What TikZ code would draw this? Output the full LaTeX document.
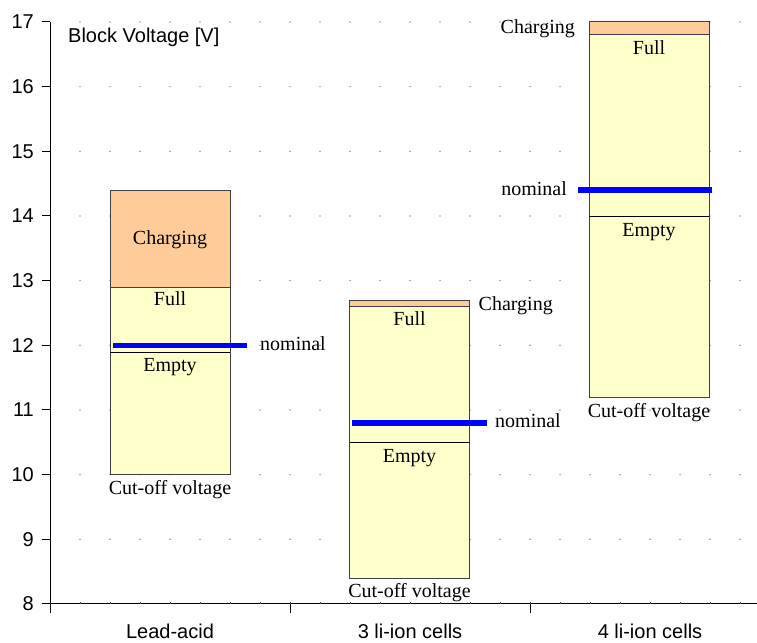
\documentclass[tikz,border=0pt]{standalone}
\usepackage{fontspec}
\setmainfont{Liberation Serif}
\setsansfont{Liberation Sans}
\usepackage{xcolor}
\usetikzlibrary{positioning}
\definecolor{cellfill}{HTML}{FFFFCC}
\definecolor{chargefill}{HTML}{FFCC99}
\tikzset{
  axisfont/.style={font=\sffamily\fontsize{20}{24}\selectfont},
  lbl/.style={font=\fontsize{20}{24}\selectfont, inner sep=3pt,
              text height=14pt, text depth=4pt},
  cellbar/.style={draw=black!75, fill=cellfill, line width=1pt},
  chargebar/.style={draw=black!75, fill=chargefill, line width=1pt},
  nominalline/.style={blue, line width=5.5pt},
  griddot/.style={fill=black!80},
  axisline/.style={black, line width=1pt},
}

\begin{document}
\begin{tikzpicture}[x=1pt, y=64.667pt]
  \useasboundingbox (0,7.412) rectangle (757,17.34);

  % dotted grid
  \foreach \v in {9,...,17}
    \foreach \x in {80,110,...,740}
      \fill[griddot] (\x,\v) circle[radius=0.6pt];

  % axes and ticks
  \draw[axisline] (50,7.86) -- (50,17);
  \draw[axisline] (50,8) -- (757,8);
  \foreach \v in {8,...,17} {
    \draw[axisline] (42,\v) -- (50,\v);
    \node[axisfont, anchor=east, inner sep=0pt] (ytick\v) at (34,\v) {\v};
  }
  \foreach \x in {80,110,...,740}
    \draw[black!70] (\x,8) -- ++(0pt,1.5pt);
  \draw[axisline] (290,8) -- (290,7.86);
  \draw[axisline] (530,8) -- (530,7.86);
  \node[axisfont, anchor=base west, inner sep=2pt] (ylabel) at (66,16.686) {Block Voltage [V]};

  % categories
  \node[axisfont, anchor=base, inner sep=0pt] (catLead) at (170,7.46) {Lead-acid};
  \node[axisfont, anchor=base, inner sep=0pt] (catLiThree) at (410,7.46) {3 li-ion cells};
  \node[axisfont, anchor=base, inner sep=0pt] (catLiFour) at (650,7.46) {4 li-ion cells};

  % lead-acid
  \draw[cellbar] (110,10) rectangle (230,12.9);
  \draw[chargebar] (110,12.9) rectangle (230,14.4);
  \draw (110,11.9) -- (230,11.9);
  \draw[nominalline] (113,12) -- (247,12);
  \coordinate (laNomEnd) at (247,12);
  \node[lbl] (laCharging) at (170,13.63) {Charging};
  \node[lbl, below=1pt] (laFull) at (170,12.9) {Full};
  \node[lbl, below=3pt] (laEmpty) at (170,11.9) {Empty};
  \node[lbl, below=3pt] (laCutoff) at (170,10) {Cut-off voltage};
  \node[lbl, right=10pt of laNomEnd] (laNominal) {nominal};

  % 3 li-ion cells
  \draw[cellbar] (349.5,8.4) rectangle (469.5,12.6);
  \draw[chargebar] (349.5,12.6) rectangle (469.5,12.7);
  \draw (349.5,10.5) -- (469.5,10.5);
  \draw[nominalline] (352,10.8) -- (487,10.8);
  \coordinate (liThreeNomEnd) at (487,10.8);
  \coordinate (liThreeTop) at (469.5,12.62);
  \node[lbl, right=6pt of liThreeTop] (liThreeCharging) {Charging};
  \node[lbl, below=2pt] (liThreeFull) at (409.5,12.6) {Full};
  \node[lbl, below=3pt] (liThreeEmpty) at (409.5,10.5) {Empty};
  \node[lbl, below=2pt] (liThreeCutoff) at (409.5,8.4) {Cut-off voltage};
  \node[lbl, right=5pt of liThreeNomEnd] (liThreeNominal) {nominal};

  % 4 li-ion cells
  \draw[cellbar] (589,11.2) rectangle (709,16.8);
  \draw[chargebar] (589,16.8) rectangle (709,17.0);
  \draw (589,14) -- (709,14);
  \draw[nominalline] (578,14.4) -- (712,14.4);
  \coordinate (liFourNomStart) at (578,14.4);
  \coordinate (liFourTop) at (589,16.9);
  \node[lbl, left=11pt of liFourTop] (liFourCharging) {Charging};
  \node[lbl, below=2pt] (liFourFull) at (649,16.8) {Full};
  \node[lbl, below=3pt] (liFourEmpty) at (649,14) {Empty};
  \node[lbl, below=3pt] (liFourCutoff) at (649,11.2) {Cut-off voltage};
  \node[lbl, left=8pt of liFourNomStart] (liFourNominal) {nominal};
\end{tikzpicture}
\end{document}
